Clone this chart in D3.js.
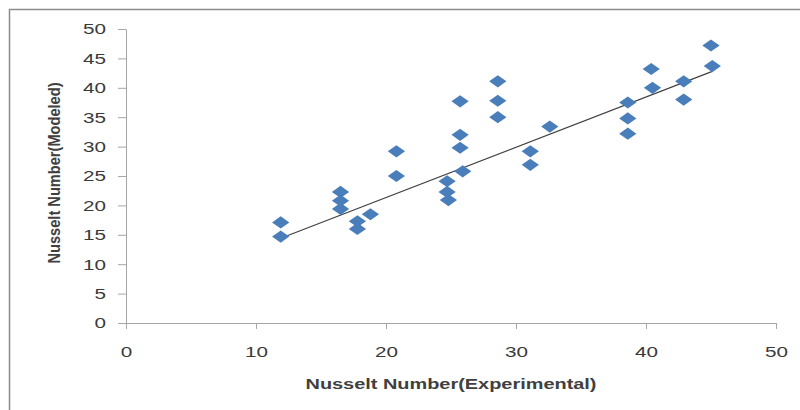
<!DOCTYPE html>
<html lang="en">
<head>
<meta charset="UTF-8">
<title>Nusselt Number: modeled vs experimental</title>
<script src="https://d3js.org/d3.v7.min.js"></script>
<style>
body { margin: 0; background: #fff; }
text { font-family: "Liberation Sans", Arial, sans-serif; fill: #404040; }
.axis path, .axis line { stroke: #a6a6a6; }
.axis text { font-size: 15px; fill: #3a3a3a; }
</style>
</head>
<body>
<div id="chart"></div>
<script>
// experimental Nu (x) vs modeled Nu (y)
const nuExp = [11.9, 11.9, 16.5, 16.5, 16.5, 17.8, 17.8, 18.8, 20.8, 20.8,
               24.7, 24.7, 24.8, 25.7, 25.7, 25.7, 25.9, 28.6, 28.6, 28.6,
               31.1, 31.1, 32.6, 38.6, 38.6, 38.6, 40.4, 40.5, 42.9, 42.9,
               45.0, 45.1];
const nuMod = [17.1, 14.7, 22.3, 20.8, 19.4, 17.3, 16.0, 18.5, 29.2, 25.0,
               24.1, 22.3, 20.9, 37.7, 32.0, 29.8, 25.8, 41.1, 37.8, 35.0,
               29.2, 26.9, 33.4, 37.5, 34.8, 32.2, 43.2, 40.0, 41.1, 38.0,
               47.2, 43.7];
// trendline end points as drawn in the source
const trendX = [12.0, 45.1];
const trendY = [14.5, 42.8];
const xTicks = [0, 10, 20, 30, 40, 50];
const yTicks = [0, 5, 10, 15, 20, 25, 30, 35, 40, 45, 50];

const width = 800, height = 410;
const margin = {left: 126, right: 24, top: 29, bottom: 86};

const svg = d3.select("#chart").append("svg")
    .attr("width", width)
    .attr("height", height);

// outer chart frame
svg.append("rect")
    .attr("x", 9.5).attr("y", 9.5)
    .attr("width", width).attr("height", height)
    .attr("fill", "none")
    .attr("stroke", "#8c8c8c")
    .attr("stroke-width", 1.5);

const x = d3.scaleLinear().domain([0, 50]).range([margin.left, width - margin.right]);
const y = d3.scaleLinear().domain([0, 50]).range([height - margin.bottom - 1, margin.top]);

// the source image is stretched sideways, so widen the digits a bit
const widen = g => g.selectAll("text")
    .attr("textLength", function() { return this.textContent.length * 11.5; })
    .attr("lengthAdjust", "spacingAndGlyphs");

svg.append("g")
    .attr("class", "axis")
    .attr("transform", `translate(0,${y(0)})`)
    .call(d3.axisBottom(x).tickValues(xTicks).tickSize(6).tickPadding(14).tickSizeOuter(0))
    .call(g => g.selectAll("text").attr("dy", "0.9em"))
    .call(widen);

svg.append("g")
    .attr("class", "axis")
    .attr("transform", `translate(${x(0)},0)`)
    .call(d3.axisLeft(y).tickValues(yTicks).tickSize(8).tickPadding(12).tickSizeOuter(0))
    .call(widen);

svg.append("line")
    .attr("x1", x(trendX[0])).attr("y1", y(trendY[0]))
    .attr("x2", x(trendX[1])).attr("y2", y(trendY[1]))
    .attr("stroke", "#404040")
    .attr("stroke-width", 1.2);

// diamonds (squashed like the source image)
const pts = nuExp.map((v, i) => [v, nuMod[i]]);
const diamond = d3.symbol().type(d3.symbolSquare).size(74);
svg.append("g").selectAll("path")
    .data(pts)
    .join("path")
    .attr("d", diamond)
    .attr("transform", d => `translate(${x(d[0])},${y(d[1])}) scale(1.42,1) rotate(45)`)
    .attr("fill", "#4a7ebb");

svg.append("text")
    .attr("x", 451).attr("y", 389)
    .attr("text-anchor", "middle")
    .attr("font-size", 14)
    .attr("font-weight", "bold")
    .attr("textLength", 291)
    .attr("lengthAdjust", "spacingAndGlyphs")
    .text("Nusselt Number(Experimental)");

svg.append("text")
    .attr("transform", "translate(60,173) rotate(-90)")
    .attr("text-anchor", "middle")
    .attr("font-size", 16.5)
    .attr("font-weight", "bold")
    .attr("textLength", 181)
    .attr("lengthAdjust", "spacingAndGlyphs")
    .text("Nusselt Number(Modeled)");
</script>
</body>
</html>
